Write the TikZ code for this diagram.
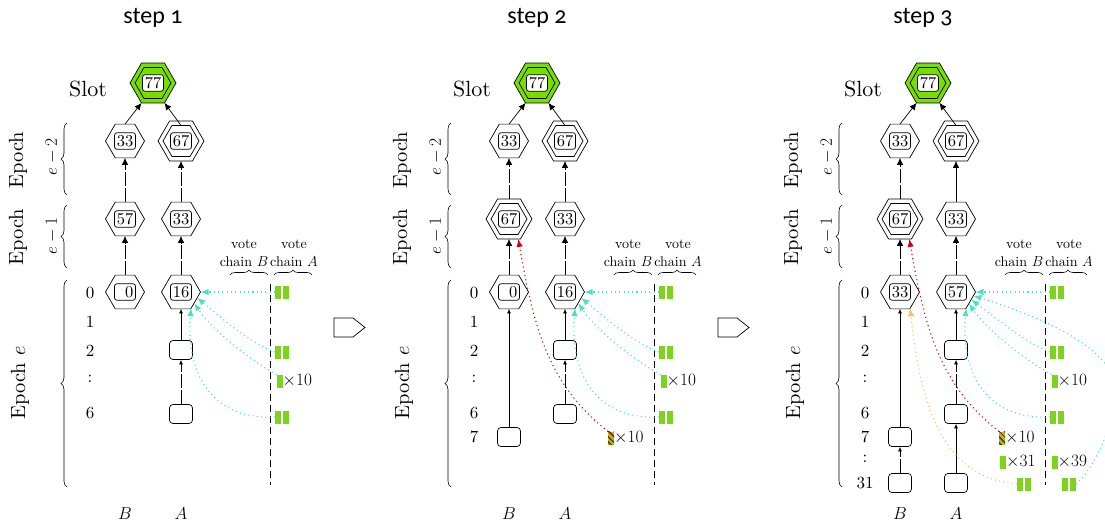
\documentclass[tikz,border=0pt]{standalone}
\usepackage{fontspec}
\setmainfont{lmroman10-regular.otf}[ItalicFont=lmroman10-italic.otf, BoldFont=lmroman10-bold.otf]
\newfontfamily\titlefont[Numbers=OldStyle]{Carlito}
\usetikzlibrary{shapes.geometric,arrows.meta,decorations.pathreplacing,patterns.meta}
\definecolor{vgreen}{RGB}{126,211,33}
\definecolor{sgreen}{RGB}{120,222,0}
\definecolor{vcyan}{RGB}{72,226,196}
\definecolor{vred}{RGB}{208,2,27}
\definecolor{vorange}{RGB}{250,190,100}
\tikzset{
 hexs/.style={regular polygon, regular polygon sides=6, draw, line width=0.7pt, minimum size=39pt, inner sep=0pt, outer sep=0pt},
 hexout/.style={hexs, minimum size=46pt},
 hexin/.style={hexs, minimum size=36pt},
 numbox/.style={draw, line width=0.7pt, rounded corners=2.5pt, minimum width=21pt, minimum height=16.5pt, inner sep=1pt, fill=white, font=\fontsize{16.5}{19}\selectfont},
 ebox/.style={draw, line width=0.7pt, rounded corners=3.5pt, minimum width=23pt, minimum height=19pt, inner sep=0pt},
 title/.style={font=\titlefont\fontsize{24}{28}\selectfont, inner sep=0pt},
 slotlbl/.style={font=\fontsize{22}{26}\selectfont, inner sep=0pt},
 epochlbl/.style={font=\fontsize{20.5}{25}\selectfont, inner sep=0pt, rotate=90},
 lbl/.style={font=\fontsize{17}{20}\selectfont, inner sep=0pt},
 votelbl/.style={font=\fontsize{14}{18}\selectfont, align=center, inner sep=0pt},
 brace/.style={decorate, decoration={brace, amplitude=6pt}, line width=0.6pt},
 vbrace/.style={decorate, decoration={brace, amplitude=5pt}, line width=0.6pt},
 sepline/.style={line width=0.7pt, dash pattern=on 7pt off 4pt},
 bigarr/.style={-{Latex[length=7pt,width=6.5pt]}, line width=0.7pt},
 smallarr/.style={-{Latex[length=4.5pt,width=4pt]}, line width=0.7pt},
 gap/.style={dash pattern=on 14pt off 2pt},
 dotcurve/.style={line width=1.1pt, dash pattern=on 1.1pt off 3.2pt, -{Latex[length=8pt,width=6.5pt]}},
 cyarr/.style={dotcurve, color=vcyan},
 redarr/.style={dotcurve, color=vred},
 orarr/.style={dotcurve, color=vorange},
 vbar/.style={fill=vgreen, minimum width=6pt, minimum height=13pt, inner sep=0pt, outer sep=0pt},
 hbar/.style={minimum width=6pt, minimum height=13pt, inner sep=0pt, outer sep=0pt, preaction={fill=vgreen}, pattern={Lines[angle=-45,distance=4pt,line width=1.7pt]}, pattern color=vred},
 panelarrow/.style={draw, line width=0.7pt},
}
\newcommand\votepair[3]{\node[vbar] (#1) at (#2-4,#3) {}; \node[vbar] (#1r) at (#2+4,#3) {};}
\newcommand\panelbase[3]{%
 \node[title] (#1T) at (#3,18) {#2};
 \node[slotlbl] (#1Sl) at (88,89) {Slot};
 \node[hexout, fill=sgreen] (#1S) at (153,83) {};
 \node[hexin, fill=sgreen] (#1Si) at (153,83) {};
 \node[numbox] (#1Sn) at (153,83) {77};
 \node[hexs] (#1B2) at (125,141) {};
 \node[numbox] (#1B2n) at (125,141) {33};
 \node[hexout] (#1A2) at (181,141) {};
 \node[hexin] (#1A2i) at (181,141) {};
 \node[numbox] (#1A2n) at (181,141) {67};
 \draw[bigarr] (#1B2.90) -- (#1S.-120);
 \draw[bigarr] (#1A2i.90) -- (#1S.-60);
 \node[epochlbl] (#1E2) at (18,160) {Epoch};
 \node[lbl, rotate=90] (#1E2m) at (52,157) {$e-2$};
 \node[epochlbl] (#1E1) at (18,237) {Epoch};
 \node[lbl, rotate=90] (#1E1m) at (52,236) {$e-1$};
 \node[epochlbl] (#1E0) at (20,383) {Epoch $e$};
 \draw[brace] (67,195) -- (67,123);
 \draw[brace] (67,268) -- (67,205);
 \draw[brace] (67,487) -- (67,280);
 \node[lbl] (#1R0) at (90,293) {0};
 \node[lbl] (#1R1) at (90,322) {1};
 \node[lbl] (#1R2) at (90,351) {2};
 \node[lbl] (#1Rd) at (90,379) {:};
 \node[lbl] (#1R6) at (90,413) {6};
 \node[lbl] (#1CB) at (125,514) {$B$};
 \node[lbl] (#1CA) at (181,514) {$A$};
 \node[votelbl] (#1VB) at (244,253) {vote\\chain $B$};
 \node[votelbl] (#1VA) at (294,253) {vote\\chain $A$};
 \draw[vbrace] (230,275) -- (268,275);
 \draw[vbrace] (274,275) -- (312,275);
 \draw[sepline] (270,284) -- (270,485);
 \votepair{#1V0}{282}{292}
 \votepair{#1V2}{282}{352}
 \node[vbar] (#1V3) at (279.5,381) {};
 \node[lbl, anchor=west] (#1V3t) at (#1V3.east) {$\times10$};
 \votepair{#1V6}{282}{417}
}
\begin{document}
\begin{tikzpicture}[x=1pt,y=-1pt]
\clip (0,0) rectangle (1105,524);
% ---------------- panel 1
\panelbase{a}{step 1}{153}
\node[hexs] (aB1) at (125,219) {}; \node[numbox] (aB1n) at (125,219) {57};
\node[hexs] (aA1) at (181,219) {}; \node[numbox] (aA1n) at (181,219) {33};
\node[hexs] (aB0) at (125,292) {}; \node[numbox] (aB0n) at (125,292) {\hphantom{0}0};
\node[hexs] (aA0) at (181,292) {}; \node[numbox] (aA0n) at (181,292) {16};
\node[ebox] (aA2s) at (181,350) {};
\node[ebox] (aA6s) at (181,414) {};
\draw[bigarr,gap] (aB1.90) -- (aB2.-90);
\draw[bigarr,gap] (aA1.90) -- (aA2.-90);
\draw[bigarr,gap] (aB0.90) -- (aB1.-90);
\draw[bigarr,gap] (aA0.90) -- (aA1.-90);
\draw[smallarr] (aA2s.north) -- (aA0.-90);
\draw[smallarr,gap] (aA6s.north) -- (aA2s.south);
\draw[cyarr] (aV0.west) -- (aA0.0);
\draw[cyarr] (aV2.west) .. controls (245,340) and (222,318) .. (aA0.-20);
\draw[cyarr] (aV3.north west) .. controls (250,360) and (212,330) .. (aA0.-40);
\draw[cyarr] (aV6.west) .. controls (205,420) and (186,365) .. (aA0.-58);
% ---------------- panel 2
\begin{scope}[xshift=384pt]
\panelbase{b}{step 2}{153}
\node[hexout] (bB1) at (125,219) {}; \node[hexin] (bB1i) at (125,219) {}; \node[numbox] (bB1n) at (125,219) {67};
\node[hexs] (bA1) at (181,219) {}; \node[numbox] (bA1n) at (181,219) {33};
\node[hexs] (bB0) at (125,292) {}; \node[numbox] (bB0n) at (125,292) {\hphantom{0}0};
\node[hexs] (bA0) at (181,292) {}; \node[numbox] (bA0n) at (181,292) {16};
\node[ebox] (bA2s) at (181,350) {};
\node[ebox] (bA6s) at (181,414) {};
\node[ebox] (bB7s) at (125,437) {};
\node[lbl] (bR7) at (90,437) {7};
\draw[bigarr,gap] (bB1.90) -- (bB2.-90);
\draw[bigarr,gap] (bA1.90) -- (bA2.-90);
\draw[bigarr,gap] (bB0.90) -- (bB1.-90);
\draw[bigarr,gap] (bA0.90) -- (bA1.-90);
\draw[smallarr] (bA2s.north) -- (bA0.-90);
\draw[smallarr,gap] (bA6s.north) -- (bA2s.south);
\draw[smallarr] (bB7s.north) -- (bB0.-90);
\node[hbar] (bH) at (227,438) {};
\node[lbl, anchor=west] (bHt) at (bH.east) {$\times10$};
\draw[redarr] (bH.north west) .. controls (165,385) and (150,330) .. (bB1.-65);
\draw[cyarr] (bV0.west) -- (bA0.0);
\draw[cyarr] (bV2.west) .. controls (245,340) and (222,318) .. (bA0.-20);
\draw[cyarr] (bV3.north west) .. controls (250,360) and (212,330) .. (bA0.-40);
\draw[cyarr] (bV6.west) .. controls (205,420) and (186,365) .. (bA0.-58);
\end{scope}
% ---------------- panel 3
\begin{scope}[xshift=775pt]
\panelbase{c}{step 3}{148}
\node[hexout] (cB1) at (125,219) {}; \node[hexin] (cB1i) at (125,219) {}; \node[numbox] (cB1n) at (125,219) {67};
\node[hexs] (cA1) at (181,219) {}; \node[numbox] (cA1n) at (181,219) {33};
\node[hexs] (cB0) at (125,292) {}; \node[numbox] (cB0n) at (125,292) {33};
\node[hexs] (cA0) at (181,292) {}; \node[numbox] (cA0n) at (181,292) {57};
\node[ebox] (cA2s) at (181,350) {};
\node[ebox] (cA6s) at (181,414) {};
\node[ebox] (cA31s) at (181,483) {};
\node[ebox] (cB7s) at (125,437) {};
\node[ebox] (cB31s) at (125,483) {};
\node[lbl] (cR7) at (90,437) {7};
\node[lbl] (cRd2) at (90,459) {:};
\node[lbl] (cR31) at (90,483) {31};
\draw[bigarr,gap] (cB1.90) -- (cB2.-90);
\draw[bigarr] (cA1.90) -- (cA2.-90);
\draw[bigarr,gap] (cB0.90) -- (cB1.-90);
\draw[bigarr,gap] (cA0.90) -- (cA1.-90);
\draw[smallarr] (cA2s.north) -- (cA0.-90);
\draw[smallarr,gap] (cA6s.north) -- (cA2s.south);
\draw[smallarr] (cA31s.north) -- (cA6s.south);
\draw[smallarr] (cB7s.north) -- (cB0.-90);
\draw[smallarr,gap] (cB31s.north) -- (cB7s.south);
\node[hbar] (cH) at (227,438) {};
\node[lbl, anchor=west] (cHt) at (cH.east) {$\times10$};
\node[vbar] (cV31) at (228,462) {};
\node[lbl, anchor=west] (cV31t) at (cV31.east) {$\times31$};
\node[vbar] (cV39) at (279.5,462) {};
\node[lbl, anchor=west] (cV39t) at (cV39.east) {$\times39$};
\votepair{cVB}{249}{484}
\votepair{cVA}{294}{484}
\draw[redarr] (cH.north west) .. controls (165,385) and (150,330) .. (cB1.-65);
\draw[orarr] (cVB.west) .. controls (165,478) and (145,400) .. (cB0.-58);
\draw[cyarr] (cV0.west) -- (cA0.0);
\draw[cyarr] (cVAr.east) .. controls (318,470) and (340,425) .. (340,390) .. controls (341,350) and (270,318) .. (cA0.-12);
\draw[cyarr] (cV2.west) .. controls (245,340) and (222,318) .. (cA0.-27);
\draw[cyarr] (cV3.north west) .. controls (250,360) and (212,330) .. (cA0.-42);
\draw[cyarr] (cV6.west) .. controls (205,420) and (186,365) .. (cA0.-58);
\end{scope}
% ---------------- arrows between panels
\draw[panelarrow] (334,318) -- (353,318) -- (365,327.5) -- (353,337) -- (334,337) -- cycle;
\draw[panelarrow] (718,318) -- (737,318) -- (749,327.5) -- (737,337) -- (718,337) -- cycle;
\end{tikzpicture}
\end{document}
